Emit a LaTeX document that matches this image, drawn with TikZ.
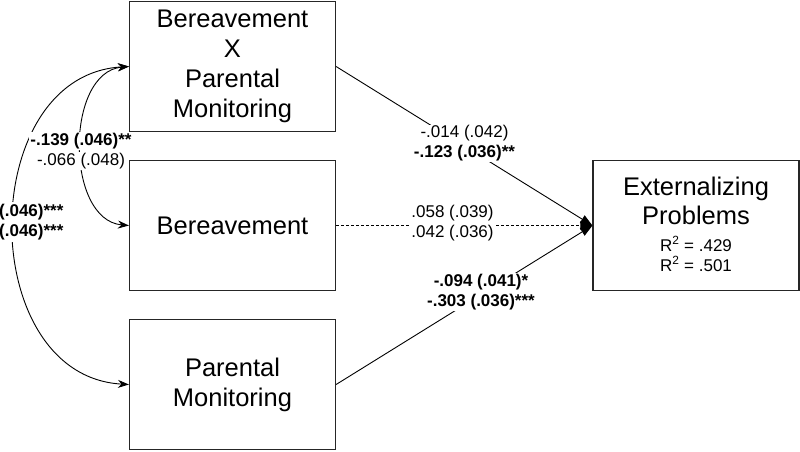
\documentclass[tikz,border=0pt]{standalone}
\usepackage{fontspec}
\setmainfont{Liberation Sans}
\usetikzlibrary{arrows.meta}
\begin{document}
\begin{tikzpicture}[x=1pt,y=-1pt,
  box/.style={draw=black!85,line width=1.2pt,minimum width=206pt,minimum height=130pt,inner sep=0pt,align=center,font=\fontsize{25.5}{30}\selectfont},
  conn/.style={line width=0.9pt,-{Triangle[length=12pt,width=9pt]}},
  cov/.style={line width=0.9pt,{Stealth[length=11pt,width=8pt]}-{Stealth[length=11pt,width=8pt]}},
  lab/.style={fill=white,inner sep=1pt,align=center,font=\fontsize{17}{20}\selectfont}]
\useasboundingbox (0,0) rectangle (800,451);
\node[box] (bxp) at (232.5,66.5) {Bereavement\\X\\Parental\\Monitoring};
\node[box] (ber) at (232.5,225.5) {Bereavement};
\node[box] (pm) at (232.5,384.5) {Parental\\Monitoring};
\node[box] (ext) at (696,225.5) {};
\node[align=center,font=\fontsize{25.5}{29}\selectfont,inner sep=0pt] (extt) at (696,201) {Externalizing\\Problems};
\node[align=center,font=\fontsize{17}{20}\selectfont,inner sep=0pt] (r2) at (696,254) {R\textsuperscript{2} = .429\\R\textsuperscript{2} = .501};
% covariances
\draw[cov] (bxp.west) .. controls (-25,75) and (-25,376) .. (pm.west);
\draw[cov] (bxp.west) .. controls (65,72) and (65,220) .. (ber.west);
% paths
\draw[conn] (bxp.east) -- (ext.west);
\draw[conn,dash pattern=on 2.5pt off 2.5pt] (ber.east) -- (ext.west);
\draw[conn] (pm.east) -- (ext.west);
% labels
\node[lab] (l1a) at (81,141) {\textbf{-.139 (.046)**}};
\node[lab] (l1b) at (81,161) {-.066 (.048)};
\node[lab,anchor=west,inner sep=0pt,inner ysep=2pt] (l2) at (-1,222) {\textbf{(.046)***}\\\textbf{(.046)***}};
\node[lab] (l3) at (464.5,143.5) {-.014 (.042)\\\textbf{-.123 (.036)**}};
\node[lab] (l4) at (452.5,223) {.058 (.039)\\.042 (.036)};
\node[lab] (l5) at (481,292) {\textbf{-.094 (.041)*}\\\textbf{-.303 (.036)***}};
\end{tikzpicture}
\end{document}
